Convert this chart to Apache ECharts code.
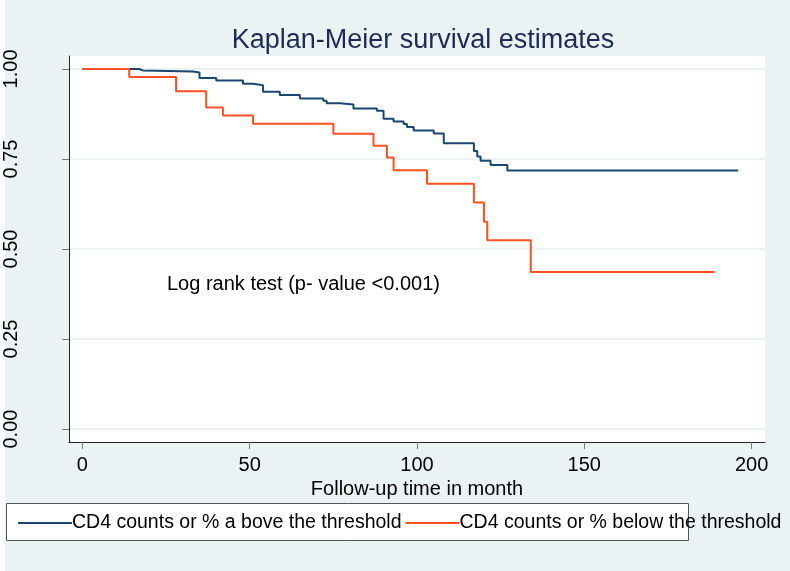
<!DOCTYPE html>
<html>
<head>
<meta charset="utf-8">
<script src="https://cdn.jsdelivr.net/npm/echarts@6/dist/echarts.min.js"></script>
<style>
  html, body { margin: 0; padding: 0; }
  #main { width: 790px; height: 571px; }
</style>
</head>
<body>
<div id="main"></div>
<script>
// survival steps: time (months) and estimate after that time
var aboveTimes = [0, 17, 18, 33, 35, 40, 48, 51, 54, 59, 65, 72, 73, 77, 81, 88, 90, 93, 96, 97, 99, 105, 108, 117, 118, 119, 122, 127, 196]
var aboveSurv = [1.0, 0.996, 0.993, 0.990, 0.975, 0.968, 0.959, 0.955, 0.937, 0.928, 0.918, 0.912, 0.905, 0.901, 0.890, 0.884, 0.862, 0.854, 0.847, 0.839, 0.829, 0.821, 0.794, 0.772, 0.757, 0.745, 0.733, 0.718, 0.718]
var belowTimes = [0, 14, 28, 37, 42, 51, 75, 87, 91, 93, 103, 117, 120, 121, 134, 189]
var belowSurv = [1.0, 0.978, 0.938, 0.893, 0.871, 0.848, 0.820, 0.787, 0.754, 0.719, 0.681, 0.629, 0.576, 0.524, 0.436, 0.436]
var xTicks = [0, 50, 100, 150, 200]
var yTicks = [0, 0.25, 0.5, 0.75, 1]
var seriesNames = ['CD4 counts or % a bove the threshold', 'CD4 counts or % below the threshold']

function pairs(t, s) {
  return t.map(function(v, i) { return [v, s[i]] })
}

var chart = echarts.init(document.getElementById('main'))
var font = 'Liberation Sans, Arial, sans-serif'

var option = {
  backgroundColor: '#eaf2f3',
  animation: false,
  title: {
    text: 'Kaplan-Meier survival estimates',
    left: 418,
    textAlign: 'center',
    top: 22,
    textStyle: { fontFamily: font, fontSize: 27, fontWeight: 'normal', color: '#1e2b55' }
  },
  grid: {
    left: 69, right: 25, top: 56, bottom: 129,
    show: true, backgroundColor: '#fff', borderWidth: 0
  },
  legend: {
    left: 13,
    top: 508,
    width: 1000,
    icon: 'rect',
    itemWidth: 54,
    itemHeight: 2,
    itemGap: 4,
    textStyle: { fontFamily: font, fontSize: 19.5, color: '#000', padding: [0, 0, 0, -5] },
    data: seriesNames
  },
  xAxis: {
    type: 'value',
    min: -4,
    max: 204,
    name: 'Follow-up time in month',
    nameLocation: 'middle',
    nameGap: 33,
    nameTextStyle: { fontFamily: font, fontSize: 20, color: '#000' },
    axisLine: { onZero: false, lineStyle: { color: '#222', width: 1 } },
    axisTick: { customValues: xTicks, length: 7, lineStyle: { color: '#777' } },
    axisLabel: { customValues: xTicks, fontFamily: font, fontSize: 20, color: '#000', margin: 13 },
    splitLine: { show: false }
  },
  yAxis: {
    type: 'value',
    min: -0.036,
    max: 1.036,
    axisLine: { show: true, onZero: false, lineStyle: { color: '#222', width: 1 } },
    axisTick: { show: true, customValues: yTicks, length: 7, lineStyle: { color: '#777' } },
    axisLabel: {
      customValues: yTicks, rotate: 90, fontFamily: font, fontSize: 20, color: '#000', margin: 48,
      formatter: function(v) { return v.toFixed(2) }
    },
    splitLine: { show: true, lineStyle: { color: '#eaf2f3', width: 2 } }
  },
  graphic: [
    { type: 'rect', left: 0, top: 0, shape: { width: 5, height: 571 }, style: { fill: '#fff' }, z: 0 },
    { type: 'rect', left: 6, top: 503, shape: { width: 682, height: 37 }, style: { fill: '#fff', stroke: '#555', lineWidth: 1 }, z: 1 },
    {
      type: 'text', left: 167, top: 274, z: 5,
      style: { text: 'Log rank test (p- value <0.001)', fontFamily: font, fontSize: 20, fill: '#000' }
    }
  ],
  series: [
    {
      name: seriesNames[0],
      type: 'line',
      step: 'end',
      symbol: 'none',
      color: '#1a476f',
      lineStyle: { width: 2 },
      data: pairs(aboveTimes, aboveSurv)
    },
    {
      name: seriesNames[1],
      type: 'line',
      step: 'end',
      symbol: 'none',
      color: '#ff5022',
      lineStyle: { width: 2 },
      data: pairs(belowTimes, belowSurv)
    }
  ]
}

chart.setOption(option)
</script>
</body>
</html>
